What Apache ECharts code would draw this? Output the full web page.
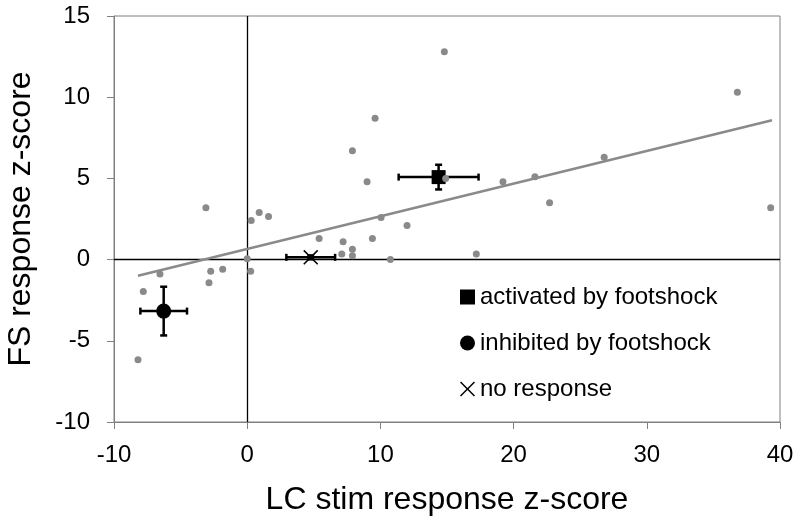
<!DOCTYPE html>
<html><head><meta charset="utf-8">
<script src="https://cdn.jsdelivr.net/npm/echarts@6/dist/echarts.min.js"></script>
<style>html,body{margin:0;padding:0;background:#fff}#c{width:800px;height:523px}</style>
</head><body><div id="c"></div>
<script>
// individual cells (gray dots)
const cellX = [14.8, 9.6, 7.9, 9.0, 14.9, -3.1, 0.3, 0.9, 1.6, 10.05, 12.0, 5.4, 7.2, 9.4, 7.9, 7.1, 7.9, 10.75, 0.0, 0.26, -6.55, -2.74, -1.84, -2.87, -7.8, -8.2, 36.8, 26.8, 19.2, 21.6, 22.7, 17.2, 39.3];
const cellY = [12.8, 8.7, 6.7, 4.8, 5.0, 3.2, 2.4, 2.9, 2.65, 2.6, 2.1, 1.3, 1.1, 1.3, 0.64, 0.35, 0.23, 0.0, 0.06, -0.72, -0.88, -0.72, -0.6, -1.42, -1.96, -6.17, 10.3, 6.3, 4.8, 5.1, 3.5, 0.35, 3.2];
// regression line endpoints
const trendX = [-8.2, 39.4];
const trendY = [-0.99, 8.58];
// group means with error bars
const groupNames = ['activated by footshock', 'inhibited by footshock', 'no response'];
const groupX = [14.37, -6.27, 4.77];
const groupY = [5.08, -3.17, 0.14];
const groupXErr = [3.0, 1.75, 1.83];
const groupYErr = [0.76, 1.5, 0.12];
// axes
const xTicks = [-10, 0, 10, 20, 30, 40];
const yTicks = [-10, -5, 0, 5, 10, 15];
const xTitle = 'LC stim response z-score';
const yTitle = 'FS response z-score';

const FONT = "'Liberation Sans', Arial, sans-serif";
const xPath = 'path://M0,0.07L0.07,0L0.5,0.43L0.93,0L1,0.07L0.57,0.5L1,0.93L0.93,1L0.5,0.57L0.07,1L0,0.93L0.43,0.5Z';
const groupSymbols = ['rect', 'circle', xPath];

const chart = echarts.init(document.getElementById('c'), null, {renderer: 'canvas'});

const errData = groupX.map((x, i) => [x, groupY[i], groupXErr[i], groupYErr[i]]);

function renderErr(params, api) {
  const x = api.value(0), y = api.value(1), ex = api.value(2), ey = api.value(3);
  const l = api.coord([x - ex, y]), r = api.coord([x + ex, y]);
  const t = api.coord([x, y + ey]), b = api.coord([x, y - ey]);
  const cap = 3.5;
  const style = {stroke: '#000', lineWidth: 2.5, fill: null};
  return {type: 'group', children: [
    {type: 'line', shape: {x1: l[0], y1: l[1], x2: r[0], y2: r[1]}, style},
    {type: 'line', shape: {x1: l[0], y1: l[1] - cap, x2: l[0], y2: l[1] + cap}, style},
    {type: 'line', shape: {x1: r[0], y1: r[1] - cap, x2: r[0], y2: r[1] + cap}, style},
    {type: 'line', shape: {x1: t[0], y1: t[1], x2: b[0], y2: b[1]}, style},
    {type: 'line', shape: {x1: t[0] - cap, y1: t[1], x2: t[0] + cap, y2: t[1]}, style},
    {type: 'line', shape: {x1: b[0] - cap, y1: b[1], x2: b[0] + cap, y2: b[1]}, style}
  ]};
}

const axisCommon = {
  type: 'value',
  axisLine: {show: true, onZero: false, lineStyle: {color: '#808080', width: 1}},
  axisTick: {show: true, inside: false, length: 7, lineStyle: {color: '#808080', width: 1}},
  splitLine: {show: false},
  nameTextStyle: {fontFamily: FONT, fontSize: 32, color: '#000'}
};

const series = [
  {
    type: 'custom', name: 'err', renderItem: renderErr, data: errData,
    encode: {x: 0, y: 1}, z: 3, silent: true
  },
  {
    type: 'scatter', name: 'cells', data: cellX.map((x, i) => [x, cellY[i]]),
    symbol: 'circle', symbolSize: 7, itemStyle: {color: '#8a8a8a', opacity: 1}, z: 5,
    markLine: {
      silent: true, symbol: ['none', 'none'], animation: false,
      label: {show: false},
      lineStyle: {color: '#000', width: 1.3, type: 'solid'},
      data: [{xAxis: 0}, {yAxis: 0}]
    }
  },
  {
    type: 'line', name: 'trend', data: trendX.map((x, i) => [x, trendY[i]]),
    showSymbol: false, symbol: 'none', lineStyle: {color: '#8a8a8a', width: 2.5}, z: 6, silent: true
  }
];
groupNames.forEach((n, i) => {
  series.push({
    type: 'scatter', name: n, data: [[groupX[i], groupY[i]]],
    symbol: groupSymbols[i], symbolSize: i === 0 ? 14 : 15,
    itemStyle: {color: '#000', opacity: 1}, z: 4
  });
});

chart.setOption({
  animation: false,
  backgroundColor: '#fff',
  grid: {left: 114, right: 20, top: 16, bottom: 101, show: true, borderColor: '#808080', borderWidth: 1,
         containLabel: false, outerBoundsMode: 'none'},
  xAxis: Object.assign({}, axisCommon, {
    min: xTicks[0], max: xTicks[xTicks.length - 1], interval: 10,
    name: xTitle, nameLocation: 'middle', nameGap: 62,
    axisLabel: {fontFamily: FONT, fontSize: 24, color: '#000', margin: 21}
  }),
  yAxis: Object.assign({}, axisCommon, {
    min: yTicks[0], max: yTicks[yTicks.length - 1], interval: 5,
    name: yTitle, nameLocation: 'middle', nameGap: 77,
    axisLabel: {fontFamily: FONT, fontSize: 24, color: '#000', margin: 24}
  }),
  legend: {
    show: true, orient: 'vertical', left: 460, top: 285, padding: 0,
    itemWidth: 15, itemHeight: 15, itemGap: 22, selectedMode: false,
    textStyle: {fontFamily: FONT, fontSize: 24, color: '#000', lineHeight: 24},
    data: groupNames.map((n, i) => ({name: n, icon: groupSymbols[i]}))
  },
  series
});
</script>
</body></html>
